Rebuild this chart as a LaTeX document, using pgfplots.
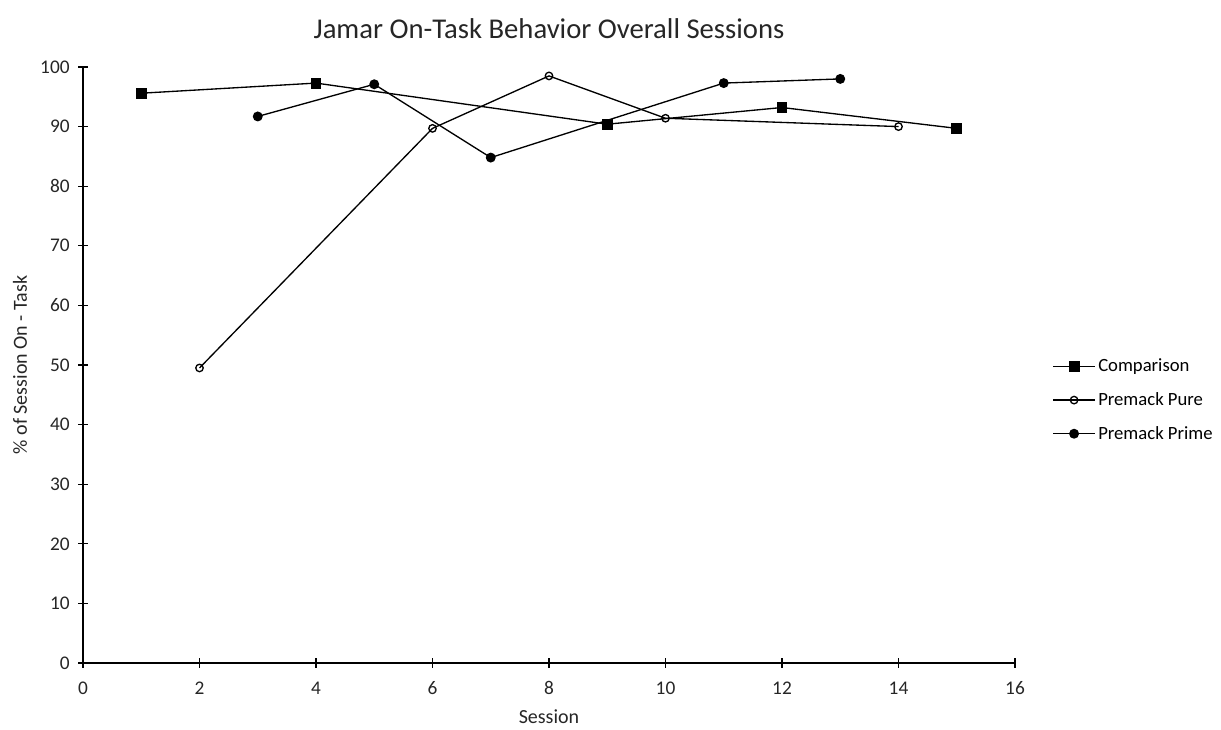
\documentclass[border=0pt]{standalone}
\usepackage{pgfplots}
\pgfplotsset{compat=1.18}
\usepackage{fontspec}
\setmainfont{Carlito}
\begin{document}
\begin{tikzpicture}
\begin{axis}[
  scale only axis,
  width=699pt, height=447pt,
  xmin=0, xmax=16, ymin=0, ymax=100,
  xtick={0,2,...,16}, ytick={0,10,...,100},
  axis x line*=bottom, axis y line*=left,
  axis line style={black, line width=1pt},
  tick style={black, line width=1pt},
  tick align=center,
  major tick length=7pt,
  /pgf/number format/assume math mode=true,
  tick label style={font=\fontsize{14.5}{16}\selectfont, text=black!85},
  xticklabel style={yshift=-7pt},
  yticklabel style={xshift=-3pt},
  xlabel={Session},
  ylabel={\% of Session On - Task},
  label style={font=\fontsize{15}{17}\selectfont, text=black!85},
  xlabel style={yshift=-4pt},
  ylabel style={yshift=3pt},
  title={Jamar On-Task Behavior Overall Sessions},
  title style={font=\fontsize{21.5}{24}\selectfont, text=black!85, yshift=12pt},
  clip=false,
  legend style={draw=none, at={(1.04,0.441)}, anchor=west,
    font=\fontsize{14}{16}\selectfont, row sep=10pt, inner xsep=0pt,
    /tikz/every even column/.append style={column sep=2pt}},
  legend cell align=left,
  legend image code/.code={\draw[mark repeat=2,mark phase=2] plot coordinates {(0cm,0cm) (0.55cm,0cm) (1.1cm,0cm)};},
  every axis plot/.append style={black, line width=1pt},
]
\addplot[mark=square*, mark size=3.6pt, mark options={solid, fill=black}] coordinates {
(1,95.6) (4,97.3) (9,90.4) (12,93.2) (15,89.7)};
\addlegendentry{Comparison}
\addplot[mark=o, mark size=2.8pt, mark options={solid, fill=white}] coordinates {
(2,49.5) (6,89.7) (8,98.5) (10,91.4) (14,90.0)};
\addlegendentry{Premack Pure}
\addplot[mark=*, mark size=3.2pt, mark options={solid, fill=black}] coordinates {
(3,91.7) (5,97.1) (7,84.8) (11,97.3) (13,98.0)};
\addlegendentry{Premack Prime}
\end{axis}
\pgfresetboundingbox
\useasboundingbox ([shift={(-62.25pt,-50.25pt)}]current axis.south west) rectangle ([shift={(154.5pt,50.25pt)}]current axis.north east);
\end{tikzpicture}
\end{document}
